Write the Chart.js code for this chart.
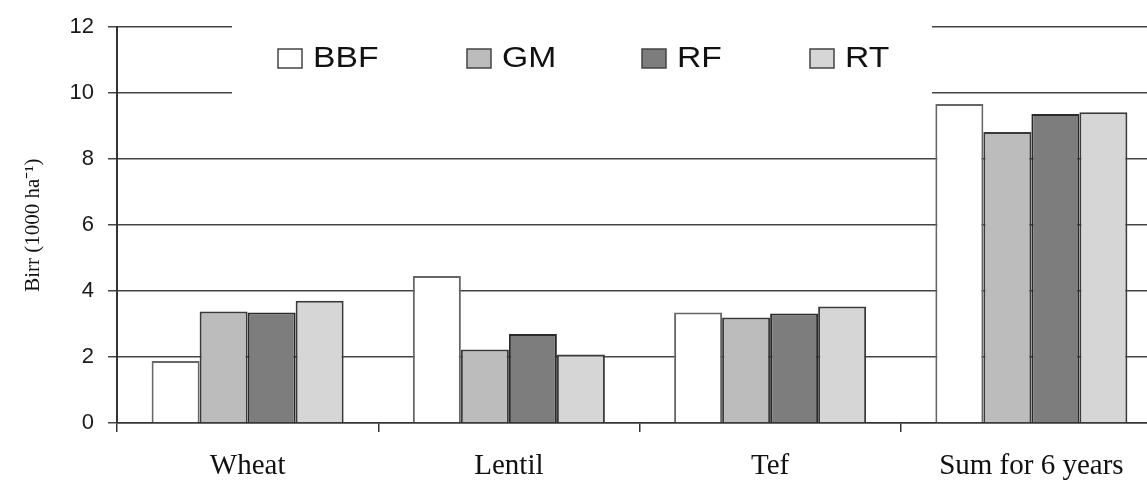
<!DOCTYPE html>
<html>
<head>
<meta charset="utf-8">
<script src="https://cdn.jsdelivr.net/npm/chart.js@4/dist/chart.umd.min.js"></script>
<style>
  html, body { margin: 0; padding: 0; background: #fff; overflow: hidden; }
  #wrap { width: 1147px; height: 481px; overflow: hidden; }
</style>
</head>
<body>
<div id="wrap"><canvas id="birrChart" width="1170" height="481"></canvas></div>
<script>
const categories = ["Wheat", "Lentil", "Tef", "Sum for 6 years"];
const seriesNames = ["BBF", "GM", "RF", "RT"];
const bbfValues = [1.88, 4.46, 3.35, 9.67];
const gmValues = [3.38, 2.23, 3.20, 8.82];
const rfValues = [3.35, 2.70, 3.32, 9.37];
const rtValues = [3.71, 2.08, 3.53, 9.42];
const yTicks = [0, 2, 4, 6, 8, 10, 12];

const fills = ["#ffffff", "#bcbcbc", "#7d7d7d", "#d6d6d6"];
const edges = ["#666666", "#3a3a3a", "#2a2a2a", "#3a3a3a"];

// legend sits in a white box over the top gridlines
const boxLegend = {
  id: "boxLegend",
  afterDatasetsDraw(chart) {
    const c = chart.ctx;
    c.save();
    c.fillStyle = "#fff";
    c.fillRect(232, 10, 700, 90);
    const starts = [278, 467, 642, 810];
    c.font = "29px 'Liberation Sans', Arial, sans-serif";
    c.textBaseline = "middle";
    chart.data.datasets.forEach((ds, i) => {
      const x = starts[i];
      c.fillStyle = ds.backgroundColor;
      c.fillRect(x, 49, 24, 19);
      c.strokeStyle = "#444";
      c.lineWidth = 1.5;
      c.strokeRect(x, 49, 24, 19);
      c.save();
      c.translate(x + 35, 59);
      c.scale(1.16, 1);
      c.fillStyle = "#111";
      c.fillText(ds.label, 0, 0);
      c.restore();
    });
    c.restore();
  }
};

new Chart(document.getElementById("birrChart").getContext("2d"), {
  type: "bar",
  data: {
    labels: categories,
    datasets: [bbfValues, gmValues, rfValues, rtValues].map((vals, i) => ({
      label: seriesNames[i],
      data: vals,
      backgroundColor: fills[i],
      borderColor: edges[i],
      borderWidth: 2,
      categoryPercentage: 0.735,
      barPercentage: 1
    }))
  },
  options: {
    responsive: false,
    animation: false,
    layout: { padding: { top: 16, right: 8, left: 0, bottom: 0 } },
    plugins: {
      legend: { display: false },
      tooltip: { enabled: false }
    },
    scales: {
      x: {
        grid: {
          offset: true,
          drawOnChartArea: false,
          drawTicks: true,
          tickLength: 9,
          color: "#333",
          lineWidth: 1.5
        },
        border: { color: "#333", width: 1.5 },
        ticks: {
          color: "#111",
          font: { family: "'Liberation Serif', 'Times New Roman', serif", size: 29 },
          padding: 17,
          maxRotation: 0
        },
        afterFit(scale) { scale.height = 58; }
      },
      y: {
        min: 0,
        max: 12,
        afterBuildTicks(scale) { scale.ticks = yTicks.map(v => ({ value: v })); },
        grid: {
          color: "#444",
          lineWidth: 1.5,
          tickLength: 9
        },
        border: { color: "#333", width: 2 },
        ticks: {
          color: "#1a1a1a",
          font: { family: "'Liberation Sans', Arial, sans-serif", size: 22 },
          padding: 14
        },
        title: {
          display: true,
          text: "Birr (1000 ha\u207B\u00B9)",
          color: "#111",
          font: { family: "'Liberation Serif', 'Times New Roman', serif", size: 21 },
          padding: { top: 21, bottom: 0 }
        },
        afterFit(scale) { scale.width = 117; }
      }
    }
  },
  plugins: [boxLegend]
});
</script>
</body>
</html>
